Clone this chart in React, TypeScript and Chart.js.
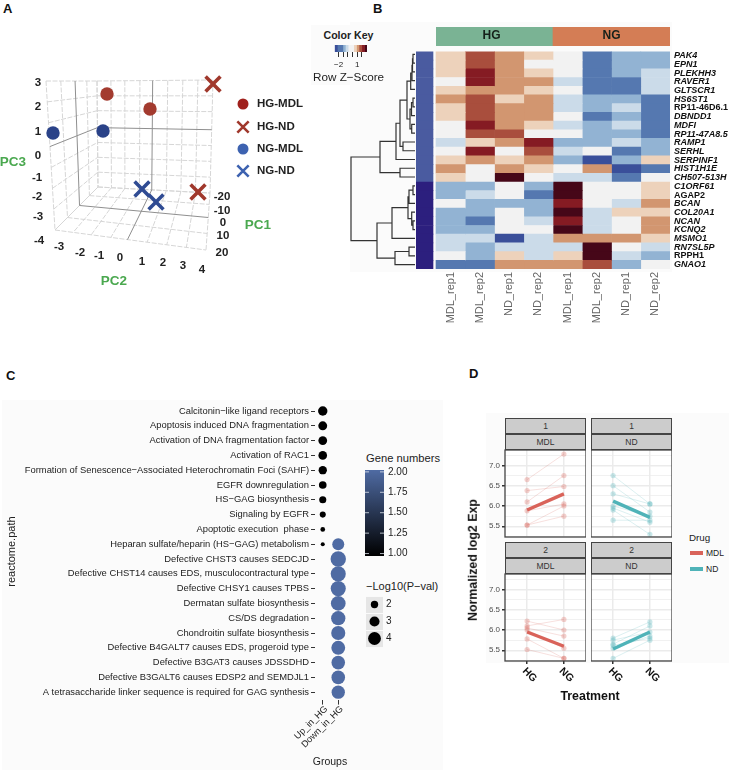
import React, { useEffect, useRef } from "react";
import { Chart, registerables } from "chart.js";

Chart.register(...registerables);
const FONT = '"Liberation Sans", Arial, sans-serif';
Chart.defaults.font.family = FONT;

// ---------- Panel A ----------
const hgMdlX = [107, 150];
const hgMdlY = [94, 109];
const hgNdX = [213, 198];
const hgNdY = [84, 192];
const ngMdlX = [53, 103];
const ngMdlY = [133, 131];
const ngNdX = [142, 156];
const ngNdY = [189, 202];
const pc1Frac = [0, 0.29, 0.57, 0.8, 1];
const pc2Frac = [0, 0.12, 0.24, 0.37, 0.48, 0.61, 0.74, 0.87, 1];
const pc3Frac = [0, 0.14, 0.28, 0.44, 0.58, 0.72, 0.86, 1];
const pc3Ticks = ["3", "2", "1", "0", "-1", "-2", "-3", "-4"];
const pc3TickPos = [[38, 83], [38, 107], [38, 132], [38, 156], [37, 178], [37, 197], [38, 217], [39, 241]];
const pc2Ticks = ["-3", "-2", "-1", "0", "1", "2", "3", "4"];
const pc2TickPos = [[59, 247], [80, 253], [99, 256], [120, 258], [142, 262], [163, 263], [183, 266], [202, 270]];
const pc1Ticks = ["-20", "-10", "0", "10", "20"];
const pc1TickPos = [[222, 197], [222, 211], [223, 223], [223, 236], [222, 253]];
const legendNames = ["HG-MDL", "HG-ND", "NG-MDL", "NG-ND"];
const legendY = [104, 127, 149, 171];

// ---------- Panel B ----------
const geneNames = ["PAK4", "EPN1", "PLEKHH3", "RAVER1", "GLTSCR1", "HS6ST1", "RP11-46D6.1", "DBNDD1", "MDFI", "RP11-47A8.5", "RAMP1", "SERHL", "SERPINF1", "HIST1H1E", "CH507-513H", "C1ORF61", "AGAP2", "BCAN", "COL20A1", "NCAN", "KCNQ2", "MSMO1", "RN7SL5P", "RPPH1", "GNAO1"];
const uprightGenes = ["RP11-46D6.1", "AGAP2", "RPPH1"];
const sampleNames = ["MDL_rep1", "MDL_rep2", "ND_rep1", "ND_rep2", "MDL_rep1", "MDL_rep2", "ND_rep1", "ND_rep2"];
const heatRows = [
  [0.5, 1.5, 1, 0.5, 0, -2, -1, -1],
  [0.5, 1.5, 1, 0, 0, -2, -1, -1],
  [0.5, 2, 1, 0.5, 0, -2, -1, -0.5],
  [0, 2, 1, 1, -0.5, -2, -2, -0.5],
  [0.5, 1, 1, 0.5, 0, -2, -2, -0.5],
  [1, 1.5, 0.5, 1, -0.5, -1, -1, -2],
  [0.5, 1.5, 1, 1, -0.5, -1, -0.5, -2],
  [0.5, 1.5, 1, 1, 0, -2, -1, -2],
  [0, 2, 1, 0.5, -0.5, -1, -0.5, -2],
  [0, 1.5, 1.5, 0, 0, -1, -1, -2],
  [-0.5, 0.5, 1, 2, -1, -1, -0.5, -1],
  [0, 2, 0, 1.5, -0.5, 0, -2, -1],
  [0.5, 1, 0.5, 1, -1, -3, -1, 0.5],
  [1, 0, 1, 0.5, 0, 1, -3, -2],
  [0.5, 0, 2.5, 0, -0.5, -0.5, -2, 0],
  [-1, -1, 0, -1, 2.5, 0, 0, 0.5],
  [-1, -0.5, 0, -2, 2.5, 0, 0, 0.5],
  [0, -1, -1, -1, 2, 0, -0.5, 1],
  [-1, -1, 0, -1, 2.5, -0.5, 0.5, 0.5],
  [-1, -2, 0, -0.5, 2, -0.5, 0, 1],
  [-1, -1, 0, 0, 2.5, -0.5, 0, 1],
  [-0.5, -0.5, -3, -0.5, 1, 1, 1, 0.5],
  [-0.5, -1, -0.5, -0.5, -0.5, 2.5, 0, -0.5],
  [0, -1, 0.5, -0.5, 0.5, 2.5, -0.5, -1],
  [-2, -2, 1, 1, 1, 1.5, -1, 0],
];
const heatLevels = [-3, -2, -1, -0.5, 0, 0.5, 1, 1.5, 2, 2.5];
const heatColors = ["#3a4f9a", "#5578b0", "#92b3d3", "#cbdbe9", "#f2f2f2", "#edd2bb", "#d29670", "#a94e3d", "#851b23", "#460718"];
const rowClusterColors = ["#4a5ba0", "#2c1f7e"];
const rowClusterSizes = [15, 10];
const groupNames = ["HG", "NG"];
const groupColors = ["#7ab394", "#d47d55"];
const keyEdges = [-2.62, -2.2, -1.75, -1.3, -0.9, -0.45, 0, 0.45, 0.9, 1.3, 1.75, 2.2, 2.6];
const keyTicks = [-2, -1.25, -0.5, 0.25, 1, 1.75];
// dendrogram merges: [height, childA, childB]; child >= 0 is a row, child < 0 is merge ~child
const dendroMerges = [
  [2, 0, 1], [2.5, ~0, 2], [3, ~1, 3], [4.3, ~2, 4],
  [2, 5, 6], [3.5, ~4, 7], [3.3, 8, 9], [5, ~5, ~6],
  [8, ~3, ~7], [12, 10, 11], [15, ~8, ~9], [19, ~10, 12],
  [15, 13, 14], [35, ~11, ~12],
  [2, 15, 16], [6, ~14, 17], [2, 19, 20], [3.3, 18, ~16], [7, ~15, ~17],
  [23, ~18, 21], [6, 22, 23], [20, ~20, 24], [38, ~19, ~21], [64, ~13, ~22],
];

// ---------- Panel C ----------
const pathways = [
  "Calcitonin−like ligand receptors",
  "Apoptosis induced DNA fragmentation",
  "Activation of DNA fragmentation factor",
  "Activation of RAC1",
  "Formation of Senescence−Associated Heterochromatin Foci (SAHF)",
  "EGFR downregulation",
  "HS−GAG biosynthesis",
  "Signaling by EGFR",
  "Apoptotic execution  phase",
  "Heparan sulfate/heparin (HS−GAG) metabolism",
  "Defective CHST3 causes SEDCJD",
  "Defective CHST14 causes EDS, musculocontractural type",
  "Defective CHSY1 causes TPBS",
  "Dermatan sulfate biosynthesis",
  "CS/DS degradation",
  "Chondroitin sulfate biosynthesis",
  "Defective B4GALT7 causes EDS, progeroid type",
  "Defective B3GAT3 causes JDSSDHD",
  "Defective B3GALT6 causes EDSP2 and SEMDJL1",
  "A tetrasaccharide linker sequence is required for GAG synthesis",
];
const groupsC = ["Up_in_HG", "Down_in_HG"];
const logPUp = [2.75, 2.55, 2.5, 2.45, 2.35, 2.1, 1.9, 1.5, 1.0, 0.75];
const logPDown = [3.7, 4.95, 4.85, 4.85, 4.7, 4.55, 4.5, 4.4, 4.3, 4.3, 4.2];
const geneTicks = [1, 1.25, 1.5, 1.75, 2];
const sizeKeys = ["2", "3", "4"];

// ---------- Panel D ----------
const treatments = ["HG", "NG"];
const dTicks = [5.25, 5.5, 5.75, 6, 6.25, 6.5, 6.75, 7, 7.25];
const mdl1HG = [6.65, 6.38, 6.1, 5.88, 5.53, 5.53];
const mdl1NG = [7.28, 6.48, 6.75, 6.05, 6.0, 5.75];
const mdl1Mean = [5.9, 6.3];
const nd1HG = [6.75, 6.5, 6.3, 6.0, 5.95, 5.9, 5.65];
const nd1NG = [6.05, 5.85, 6.05, 5.75, 5.6, 5.3, 5.65];
const nd1Mean = [6.12, 5.72];
const mdl2HG = [6.22, 6.05, 6.0, 5.78, 5.52, 6.1];
const mdl2NG = [6.0, 5.85, 5.55, 5.3, 5.3, 6.26];
const mdl2Mean = [5.95, 5.6];
const nd2HG = [5.8, 5.75, 5.65, 5.55, 5.3, 5.62];
const nd2NG = [6.2, 5.95, 6.1, 5.85, 5.75, 5.8];
const nd2Mean = [5.53, 5.95];

const RED = "#d9635a";
const TEAL = "#4fb3b8";
const BLUE_C = "#4f6ba3";

// ---------- helpers ----------
const base = (padding: any = 0, extra: any = {}) => ({
  responsive: false,
  maintainAspectRatio: false,
  animation: false,
  devicePixelRatio: 1,
  events: [],
  layout: { padding, autoPadding: false },
  plugins: { legend: { display: false }, tooltip: { enabled: false }, title: { display: false } },
  ...extra,
});
const fixW = (w: number) => (axis: any) => { axis.width = w; };
const fixH = (h: number) => (axis: any) => { axis.height = h; };
const setTicks = (vals: number[]) => (axis: any) => { axis.ticks = vals.map((value) => ({ value })); };

function heatColor(v: number) {
  let best = 0;
  heatLevels.forEach((l, i) => { if (Math.abs(l - v) < Math.abs(heatLevels[best] - v)) best = i; });
  return heatColors[best];
}
const lerp = (a: number[], b: number[], t: number) => [a[0] + (b[0] - a[0]) * t, a[1] + (b[1] - a[1]) * t];

function wall(tl: number[], tr: number[], br: number[], bl: number[], us: number[], vs: number[], darkU: number, darkV: number) {
  const light: any[] = [];
  const dark: any[] = [];
  const add = (list: any[], p: number[], q: number[]) => { list.push({ x: p[0], y: p[1] }, { x: q[0], y: q[1] }, { x: null, y: null }); };
  us.forEach((u, i) => add(i === darkU ? dark : light, lerp(tl, tr, u), lerp(bl, br, u)));
  vs.forEach((v, i) => add(i === darkV ? dark : light, lerp(tl, bl, v), lerp(tr, br, v)));
  return { light, dark };
}

function makePanelA() {
  const walls = [
    wall([46, 81], [97, 81], [98, 187], [55, 230], pc1Frac, pc3Frac, 2, 3),
    wall([97, 81], [213, 80], [210, 193], [98, 187], pc2Frac, pc3Frac, 4, 3),
    wall([98, 187], [210, 193], [206, 250], [55, 230], pc2Frac, pc1Frac.map((f) => 1 - f), 4, 2),
  ];
  const pts = (xs: number[], ys: number[]) => xs.map((x, i) => ({ x, y: ys[i] }));
  const marks = (label: string, data: any[], color: string, cross: boolean) => ({
    label, data, showLine: false, clip: false,
    pointStyle: cross ? "crossRot" : "circle",
    pointRadius: cross ? 10.5 : 6.7,
    borderWidth: cross ? 3.6 : 0,
    pointBorderWidth: cross ? 3.6 : 0,
    pointBorderColor: color,
    pointBackgroundColor: color,
    order: 0,
  });
  const line = (data: any[], color: string, dash: number[], w: number) => ({
    data, showLine: true, pointRadius: 0, borderColor: color, borderWidth: w, borderDash: dash, spanGaps: false, order: 5,
  });
  const textPlugin = {
    id: "panelAText",
    afterDraw(chart: any) {
      const { ctx, scales } = chart;
      const put = (t: string, p: number[], font: string, color: string, align: any = "center") => {
        ctx.save();
        ctx.font = font; ctx.fillStyle = color; ctx.textAlign = align; ctx.textBaseline = "middle";
        ctx.fillText(t, scales.x.getPixelForValue(p[0]), scales.y.getPixelForValue(p[1]));
        ctx.restore();
      };
      const tickFont = `bold 11.5px ${FONT}`;
      pc3Ticks.forEach((t, i) => put(t, pc3TickPos[i], tickFont, "#222"));
      pc2Ticks.forEach((t, i) => put(t, pc2TickPos[i], tickFont, "#222"));
      pc1Ticks.forEach((t, i) => put(t, pc1TickPos[i], tickFont, "#222"));
      const titleFont = `bold 13.5px ${FONT}`;
      put("PC3", [13, 162], titleFont, "#4aa84f");
      put("PC1", [258, 225], titleFont, "#4aa84f");
      put("PC2", [114, 281], titleFont, "#4aa84f");
      legendNames.forEach((t, i) => put(t, [257, legendY[i]], `bold 11.5px ${FONT}`, "#222", "left"));
    },
  };
  return {
    type: "scatter",
    data: {
      datasets: [
        marks("HG-MDL", pts(hgMdlX, hgMdlY), "#a33b2f", false),
        marks("HG-ND", pts(hgNdX, hgNdY), "#a0382c", true),
        marks("NG-MDL", pts(ngMdlX, ngMdlY), "#2a4288", false),
        marks("NG-ND", pts(ngNdX, ngNdY), "#2f4b93", true),
        { ...marks("key1", [{ x: 243, y: legendY[0] }], "#a0201c", false), pointRadius: 5.5 },
        { ...marks("key2", [{ x: 243, y: legendY[1] }], "#a0382c", true), pointRadius: 8, pointBorderWidth: 2.6 },
        { ...marks("key3", [{ x: 243, y: legendY[2] }], "#3d62b0", false), pointRadius: 5.5 },
        { ...marks("key4", [{ x: 243, y: legendY[3] }], "#3d62b0", true), pointRadius: 8, pointBorderWidth: 2.6 },
        ...walls.map((w) => line(w.dark, "#8f8f8f", [], 1)),
        ...walls.map((w) => line(w.light, "#d6d6d6", [5, 1.5], 1)),
      ],
    },
    options: base(0, {
      scales: {
        x: { type: "linear", min: 0, max: 320, display: false },
        y: { type: "linear", min: 0, max: 310, reverse: true, display: false },
      },
    }),
    plugins: [textPlugin],
  };
}

function makeHeatmap() {
  const rowSideColors: string[] = [];
  rowClusterSizes.forEach((n, i) => { for (let k = 0; k < n; k++) rowSideColors.push(rowClusterColors[i]); });
  const columns = sampleNames.map((name, c) => ({
    label: name + c,
    data: heatRows.map(() => [c, c + 1]),
    backgroundColor: heatRows.map((r) => heatColor(r[c])),
    grouped: false, barPercentage: 1, categoryPercentage: 1, borderWidth: 0,
  }));
  const side = {
    label: "cluster",
    data: heatRows.map(() => [-0.684, -0.103]),
    backgroundColor: rowSideColors,
    grouped: false, barPercentage: 1, categoryPercentage: 1, borderWidth: 0,
  };
  return {
    type: "bar",
    data: { labels: geneNames, datasets: [side, ...columns] },
    options: base({ top: 8, right: 0, left: 0, bottom: 0 }, {
      indexAxis: "y",
      scales: {
        x: {
          type: "linear", min: -0.684, max: 8,
          afterBuildTicks: setTicks(sampleNames.map((_, i) => i + 0.5)),
          afterFit: fixH(60),
          grid: { display: false, drawTicks: false }, border: { display: false },
          ticks: {
            autoSkip: false, minRotation: 90, maxRotation: 90, padding: 3, color: "#666",
            font: { size: 11 },
            callback: (v: number) => sampleNames[Math.floor(v)],
          },
        },
        y: {
          position: "right", afterFit: fixW(59),
          grid: { display: false, drawTicks: false }, border: { display: false },
          ticks: {
            autoSkip: false, padding: 4, color: "#111",
            font: (ctx: any) => ({
              size: 9, weight: "bold",
              style: uprightGenes.includes(geneNames[ctx.index]) ? "normal" : "italic",
            }),
          },
        },
      },
    }),
  };
}

function makeGroupBar() {
  const labelPlugin = {
    id: "groupLabels",
    afterDatasetsDraw(chart: any) {
      const { ctx } = chart;
      chart.getDatasetMeta(0).data.forEach((el: any, i: number) => {
        ctx.save();
        ctx.font = `bold 12px ${FONT}`; ctx.fillStyle = "#15201a";
        ctx.textAlign = "center"; ctx.textBaseline = "middle";
        ctx.fillText(groupNames[i], el.x - (i === 0 ? 3 : 0), 9);
        ctx.restore();
      });
    },
  };
  return {
    type: "bar",
    data: { labels: groupNames, datasets: [{ data: [1, 1], backgroundColor: groupColors, barPercentage: 1, categoryPercentage: 1, borderWidth: 0 }] },
    options: base(0, { scales: { x: { display: false }, y: { display: false, min: 0, max: 1 } } }),
    plugins: [labelPlugin],
  };
}

function makeColorKey() {
  const datasets = keyEdges.slice(0, -1).map((a, i) => ({
    data: [[a, keyEdges[i + 1]]],
    backgroundColor: heatColor(((a + keyEdges[i + 1]) / 2) * 1.05),
    grouped: false, barPercentage: 1, categoryPercentage: 1, borderWidth: 0,
  }));
  return {
    type: "bar",
    data: { labels: ["key"], datasets },
    options: base({ top: 8, bottom: 0, left: 0, right: 0 }, {
      indexAxis: "y",
      scales: {
        y: { display: false },
        x: {
          type: "linear", min: -2.62, max: 2.6,
          afterBuildTicks: setTicks(keyTicks),
          afterFit: fixH(22),
          grid: { drawOnChartArea: false, tickLength: 5, tickColor: "#333" }, border: { display: false },
          ticks: {
            autoSkip: false, maxRotation: 0, minRotation: 0, padding: 3, color: "#222", font: { size: 8 },
            callback: (v: number) => (v === -2 ? "−2" : v === 1 ? "1" : ""),
          },
        },
      },
    }),
  };
}

function makeDendro() {
  const pos: { h: number; y: number }[] = [];
  const node = (id: number) => (id >= 0 ? { h: 0, y: id + 0.5 } : pos[~id]);
  const path: any[] = [];
  dendroMerges.forEach(([h, a, b]) => {
    const na = node(a), nb = node(b);
    path.push({ x: na.h, y: na.y }, { x: h, y: na.y }, { x: h, y: nb.y }, { x: nb.h, y: nb.y }, { x: null, y: null });
    pos.push({ h, y: (na.y + nb.y) / 2 });
  });
  return {
    type: "scatter",
    data: { datasets: [{ data: path, showLine: true, pointRadius: 0, borderColor: "#333", borderWidth: 1.2, spanGaps: false }] },
    options: base({ top: 8, bottom: 8, left: 0, right: 0 }, {
      scales: {
        x: { type: "linear", min: 0, max: 65, reverse: true, display: false },
        y: { type: "linear", min: 0, max: 25, reverse: true, display: false },
      },
    }),
  };
}

const pSize = (p: number) => 1.35 * p + 1;

function makeDotPlot() {
  const up = logPUp.map((p, i) => ({ x: groupsC[0], y: pathways[i], r: pSize(p) }));
  const down = logPDown.map((p, i) => ({ x: groupsC[1], y: pathways[i + 9], r: pSize(p) }));
  const xLabels = {
    id: "rotatedGroups",
    afterDraw(chart: any) {
      const { ctx, scales, chartArea: a } = chart;
      ctx.save();
      ctx.font = `9.2px ${FONT}`; ctx.fillStyle = "#222"; ctx.textAlign = "right"; ctx.textBaseline = "middle";
      groupsC.forEach((g, i) => {
        ctx.save();
        ctx.translate(scales.x.getPixelForValue(i) + 3.5, a.bottom + 8);
        ctx.rotate(-Math.PI / 4);
        ctx.fillText(g, 0, 0);
        ctx.restore();
      });
      ctx.restore();
    },
  };
  return {
    type: "bubble",
    data: {
      xLabels: groupsC, yLabels: pathways,
      datasets: [
        { data: up, backgroundColor: "#000000", borderWidth: 0, clip: false },
        { data: down, backgroundColor: BLUE_C, borderWidth: 0, clip: false },
      ],
    },
    options: base({ top: 8.6, right: 0, left: 0, bottom: 0 }, {
      scales: {
        x: {
          type: "category", offset: true, afterFit: fixH(70.4),
          grid: { drawOnChartArea: false, tickLength: 5, tickColor: "#333" }, border: { display: false },
          ticks: { display: false, autoSkip: false },
        },
        y: {
          type: "category", offset: true, afterFit: fixW(313),
          grid: { drawOnChartArea: false, tickLength: 4, tickColor: "#333" }, border: { display: false },
          ticks: { autoSkip: false, padding: 2, color: "#222", font: { size: 9.4 } },
          title: { display: true, text: "reactome.path", color: "#222", font: { size: 11 }, padding: { top: 3, bottom: 0 } },
        },
      },
    }),
    plugins: [xLabels],
  };
}

function makeColorBar() {
  const whiteTicks = {
    id: "whiteTicks",
    afterDraw(chart: any) {
      const { ctx, chartArea: a, scales } = chart;
      ctx.save();
      ctx.strokeStyle = "#dfe4ee"; ctx.lineWidth = 0.8;
      geneTicks.forEach((v) => {
        const y = scales.y.getPixelForValue(v);
        ctx.beginPath();
        ctx.moveTo(a.left, y); ctx.lineTo(a.left + 4, y);
        ctx.moveTo(a.right - 4, y); ctx.lineTo(a.right, y);
        ctx.stroke();
      });
      ctx.restore();
    },
  };
  return {
    type: "bar",
    data: {
      labels: ["gene numbers"],
      datasets: [{
        data: [[0.97, 2.023]], barPercentage: 1, categoryPercentage: 1, borderWidth: 0,
        backgroundColor: (c: any) => {
          const a = c.chart.chartArea;
          if (!a) return BLUE_C;
          const g = c.chart.ctx.createLinearGradient(0, a.bottom, 0, a.top);
          g.addColorStop(0, "#000000");
          g.addColorStop(1, BLUE_C);
          return g;
        },
      }],
    },
    options: base({ top: 8, bottom: 8, left: 0, right: 0 }, {
      scales: {
        x: { display: false },
        y: {
          position: "right", type: "linear", min: 0.97, max: 2.023,
          afterBuildTicks: setTicks(geneTicks), afterFit: fixW(30),
          grid: { display: false, drawTicks: false }, border: { display: false },
          ticks: { autoSkip: false, padding: 4, color: "#222", font: { size: 10 }, callback: (v: number) => v.toFixed(2) },
        },
      },
    }),
    plugins: [whiteTicks],
  };
}

function makeSizeKey() {
  const bg = {
    id: "keyBg",
    beforeDraw(chart: any) {
      const { ctx, chartArea: a } = chart;
      ctx.save(); ctx.fillStyle = "#e6e6e6"; ctx.fillRect(a.left, a.top, a.width, a.height); ctx.restore();
    },
  };
  return {
    type: "bubble",
    data: {
      yLabels: sizeKeys,
      datasets: [{ data: sizeKeys.map((k) => ({ x: 0.5, y: k, r: pSize(Number(k)) })), backgroundColor: "#000", borderWidth: 0, clip: false }],
    },
    options: base({ top: 8, bottom: 8, left: 0, right: 0 }, {
      scales: {
        x: { type: "linear", min: 0, max: 1, display: false },
        y: {
          type: "category", offset: true, position: "right", afterFit: fixW(20),
          grid: { display: true, offset: true, color: "#fafafa", lineWidth: 1, drawTicks: false }, border: { display: false },
          ticks: { padding: 3, color: "#222", font: { size: 10 } },
        },
      },
    }),
    plugins: [bg],
  };
}

const isMajor = (v: number) => Math.abs(v * 2 - Math.round(v * 2)) < 1e-6;

function makeFacet(hg: number[], ng: number[], mean: number[], color: string, showY: boolean, showX: boolean) {
  const faded = color + "33";
  const dots = color + "4d";
  const frame = {
    id: "frame",
    beforeDraw(chart: any) {
      const { ctx, chartArea: a } = chart;
      ctx.save(); ctx.fillStyle = "#fff"; ctx.fillRect(a.left, a.top, a.width, a.height); ctx.restore();
    },
    afterDraw(chart: any) {
      const { ctx, chartArea: a, scales } = chart;
      ctx.save();
      ctx.strokeStyle = "#444"; ctx.lineWidth = 1.3;
      ctx.strokeRect(a.left, a.top, a.width, a.height);
      if (showX) {
        ctx.font = `bold 10.5px ${FONT}`; ctx.fillStyle = "#111";
        ctx.textAlign = "center"; ctx.textBaseline = "middle";
        treatments.forEach((t, i) => {
          ctx.save();
          ctx.translate(scales.x.getPixelForValue(i) + 2.5, a.bottom + 14);
          ctx.rotate(Math.PI / 4);
          ctx.fillText(t, 0, 0);
          ctx.restore();
        });
      }
      ctx.restore();
    },
  };
  return {
    type: "scatter",
    data: {
      datasets: [
        {
          data: [{ x: 0, y: mean[0] }, { x: 1, y: mean[1] }], showLine: true, pointRadius: 0,
          borderColor: color, borderWidth: 3.4, clip: false,
        },
        ...hg.map((v, i) => ({
          data: [{ x: 0, y: v }, { x: 1, y: ng[i] }], showLine: true, pointRadius: 2.6, pointBorderWidth: 0,
          pointBackgroundColor: dots, borderColor: faded, borderWidth: 1,
        })),
      ],
    },
    options: base({ top: 8, left: 0, right: 0, bottom: showX ? 0 : 8 }, {
      scales: {
        x: {
          type: "linear", min: -0.6, max: 1.6,
          afterBuildTicks: setTicks([0, 1]), afterFit: fixH(showX ? 30 : 0),
          grid: { color: "#ebebeb", lineWidth: 1.5, drawTicks: showX, tickLength: 3, tickColor: "#333" },
          border: { display: false },
          ticks: { display: false },
        },
        y: {
          type: "linear", min: 5.236, max: 7.38,
          afterBuildTicks: setTicks(dTicks), afterFit: fixW(showY ? 27 : 0),
          grid: {
            color: () => "#ebebeb",
            lineWidth: (c: any) => (c.tick && isMajor(c.tick.value) ? 1.5 : 0.7),
            drawTicks: showY, tickLength: 3,
            tickColor: (c: any) => (c.tick && isMajor(c.tick.value) ? "#333" : "rgba(0,0,0,0)"),
          },
          border: { display: false },
          ticks: {
            display: showY, autoSkip: false, padding: 2, color: "#4d4d4d", font: { size: 8 },
            callback: (v: number) => (isMajor(v) ? v.toFixed(1) : ""),
          },
        },
      },
    }),
    plugins: [frame],
  };
}

// ---------- components ----------
function ChartBox({ left, top, width, height, make }: any) {
  const ref = useRef<HTMLCanvasElement>(null);
  useEffect(() => {
    const c = new Chart(ref.current as any, make());
    return () => c.destroy();
  }, []);
  return <canvas ref={ref} width={width} height={height} style={{ position: "absolute", left, top, width, height, display: "block" }} />;
}

function Txt({ x, y, size = 11, bold = false, color = "#222", anchor = "left", rotate = 0, children }: any) {
  const tx = anchor === "center" ? "-50%" : "0";
  return (
    <div style={{
      position: "absolute", left: x, top: y, whiteSpace: "nowrap", fontFamily: FONT, fontSize: size,
      fontWeight: bold ? 700 : 400, color, lineHeight: 1,
      transform: `translate(${tx},-50%) rotate(${rotate}deg)`,
    }}>{children}</div>
  );
}

function Bg({ l, t, r, b, c = "#fbfbfb" }: any) {
  return <div style={{ position: "absolute", left: l, top: t, width: r - l, height: b - t, background: c }} />;
}

function Strip({ l, t, r, b, text }: any) {
  return (
    <div style={{
      position: "absolute", left: l, top: t, width: r - l, height: b - t, boxSizing: "border-box",
      background: "#cccccc", border: "1px solid #444", fontFamily: FONT, fontSize: 8.5, color: "#333",
      display: "flex", alignItems: "center", justifyContent: "center",
    }}>{text}</div>
  );
}

export default function App() {
  return (
    <div style={{ position: "relative", width: 729, height: 770, overflow: "hidden", background: "#fff", filter: "blur(0.35px)" }}>
      <style>{"html,body{margin:0;padding:0;background:#fff;overflow:hidden}"}</style>

      <Bg l={311} t={25} r={350} b={85} />
      <Bg l={350} t={22} r={672} b={272} />
      <Bg l={2} t={400} r={443} b={770} />
      <Bg l={486} t={413} r={729} b={663} />

      <Txt x={3} y={8} size={13} bold color="#111">A</Txt>
      <Txt x={373} y={8} size={13} bold color="#111">B</Txt>
      <Txt x={6} y={375} size={13} bold color="#111">C</Txt>
      <Txt x={469} y={373} size={13} bold color="#111">D</Txt>

      <ChartBox left={0} top={0} width={320} height={310} make={makePanelA} />

      <Txt x={348.5} y={35} size={10.6} bold anchor="center">Color Key</Txt>
      <Txt x={313} y={77} size={11.7}>Row Z−Score</Txt>
      <ChartBox left={331} top={37} width={36} height={37} make={makeColorKey} />
      <ChartBox left={436} top={27} width={234} height={19} make={makeGroupBar} />
      <ChartBox left={350} top={42} width={65} height={235} make={makeDendro} />
      <ChartBox left={416} top={42} width={313} height={287} make={makeHeatmap} />

      <ChartBox left={2} top={395} width={344} height={375} make={makeDotPlot} />
      <Txt x={330} y={761} size={10.5} anchor="center">Groups</Txt>
      <Txt x={366} y={459} size={11.2}>Gene numbers</Txt>
      <ChartBox left={365} top={460} width={49} height={106} make={makeColorBar} />
      <Txt x={366} y={586} size={11}>−Log10(P−val)</Txt>
      <ChartBox left={366} top={587} width={37} height={69} make={makeSizeKey} />

      <Strip l={505} t={418} r={586} b={434} text="1" />
      <Strip l={505} t={434} r={586} b={450} text="MDL" />
      <Strip l={591} t={418} r={672} b={434} text="1" />
      <Strip l={591} t={434} r={672} b={450} text="ND" />
      <Strip l={505} t={542} r={586} b={558} text="2" />
      <Strip l={505} t={558} r={586} b={574} text="MDL" />
      <Strip l={591} t={542} r={672} b={558} text="2" />
      <Strip l={591} t={558} r={672} b={574} text="ND" />
      <ChartBox left={478} top={442} width={108} height={103} make={() => makeFacet(mdl1HG, mdl1NG, mdl1Mean, RED, true, false)} />
      <ChartBox left={591} top={442} width={81} height={103} make={() => makeFacet(nd1HG, nd1NG, nd1Mean, TEAL, false, false)} />
      <ChartBox left={478} top={566} width={108} height={125} make={() => makeFacet(mdl2HG, mdl2NG, mdl2Mean, RED, true, true)} />
      <ChartBox left={591} top={566} width={81} height={125} make={() => makeFacet(nd2HG, nd2NG, nd2Mean, TEAL, false, true)} />
      <Txt x={590} y={696} size={12.4} bold anchor="center" color="#111">Treatment</Txt>
      <Txt x={473} y={560} size={12.4} bold anchor="center" rotate={-90} color="#111">Normalized log2 Exp</Txt>
      <Txt x={689} y={538} size={9.8}>Drug</Txt>
      <div style={{ position: "absolute", left: 690, top: 551, width: 13, height: 4, background: RED }} />
      <Txt x={706} y={553} size={8.5}>MDL</Txt>
      <div style={{ position: "absolute", left: 690, top: 567, width: 13, height: 4, background: TEAL }} />
      <Txt x={706} y={569} size={8.5}>ND</Txt>
    </div>
  );
}
